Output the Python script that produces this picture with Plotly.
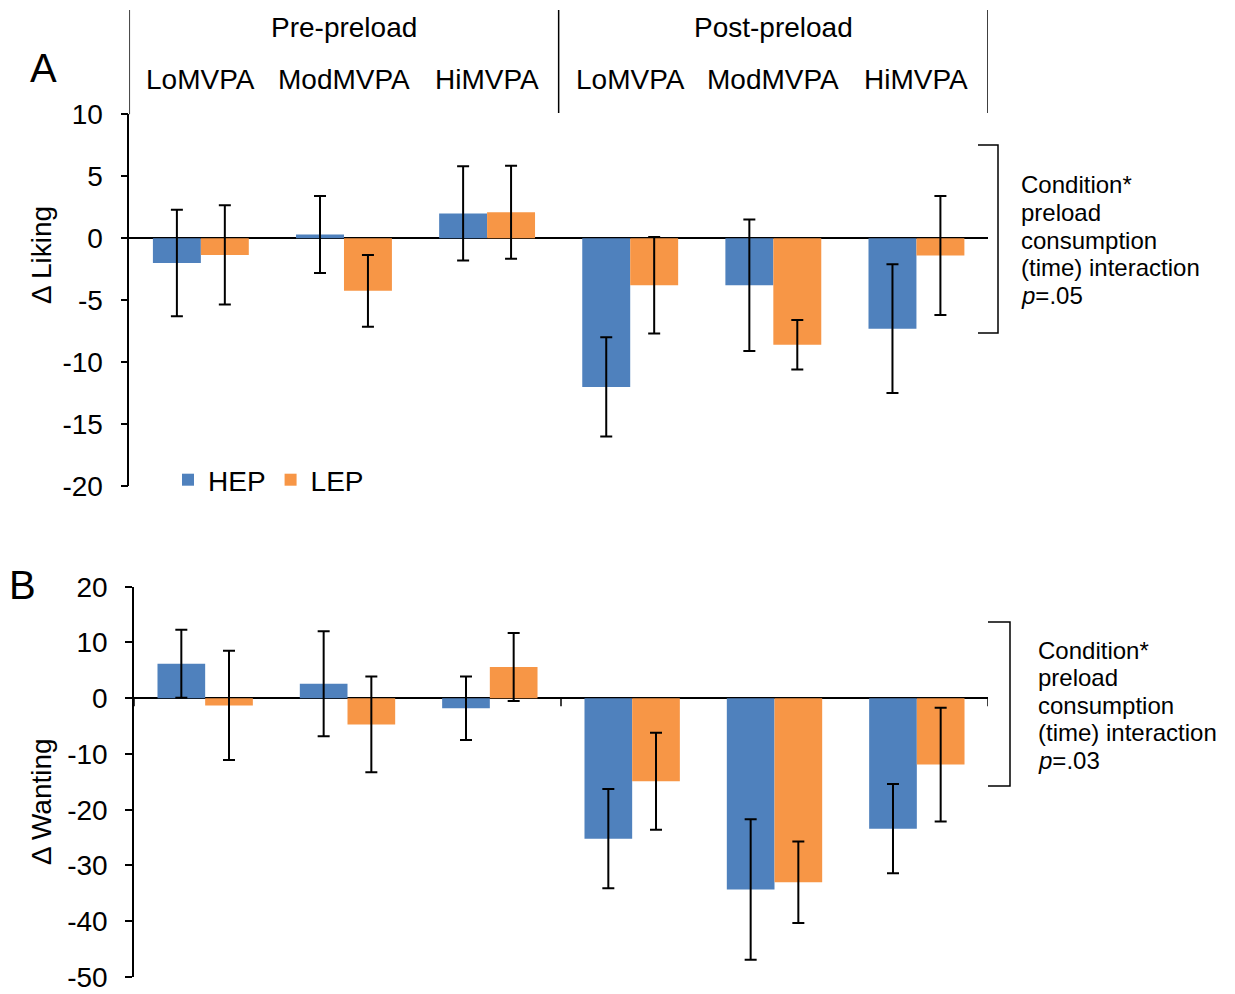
import plotly.graph_objects as go

W, H = 1235, 994

# ---- data -------------------------------------------------------------
phases = ["Pre-preload", "Post-preload"]
levels = ["LoMVPA", "ModMVPA", "HiMVPA", "LoMVPA", "ModMVPA", "HiMVPA"]
series = ["HEP", "LEP"]

liking_hep = [-2.0, 0.3, 2.0, -12.0, -3.8, -7.3]
liking_hep_err = [4.3, 3.1, 3.8, 4.0, 5.3, 5.2]
liking_lep = [-1.35, -4.25, 2.1, -3.8, -8.6, -1.4]
liking_lep_err = [4.0, 2.9, 3.75, 3.9, 2.0, 4.8]

wanting_hep = [6.2, 2.6, -1.8, -25.2, -34.3, -23.4]
wanting_hep_err = [6.1, 9.4, 5.7, 8.9, 12.6, 8.0]
wanting_lep = [-1.3, -4.7, 5.6, -14.9, -33.0, -11.9]
wanting_lep_err = [9.8, 8.6, 6.1, 8.7, 7.3, 10.2]

liking_ticks = [-20, -15, -10, -5, 0, 5, 10]
wanting_ticks = [-50, -40, -30, -20, -10, 0, 10, 20]

liking_note = ["Condition*", "preload", "consumption", "(time) interaction", "<i>p</i>=.05"]
wanting_note = ["Condition*", "preload", "consumption", "(time) interaction", "<i>p</i>=.03"]

# ---- styling ----------------------------------------------------------
FONT = "Arial, 'Liberation Sans', sans-serif"
BLUE = "#4F81BD"
ORANGE = "#F79646"
colors = [BLUE, ORANGE]


def fx(px):
    return px / W


def fy(py):
    return 1 - py / H


xpos = list(range(len(levels)))

fig = go.Figure()

panels = [
    ("x", "y", [liking_hep, liking_lep], [liking_hep_err, liking_lep_err], True),
    ("x2", "y2", [wanting_hep, wanting_lep], [wanting_hep_err, wanting_lep_err], False),
]
for xa, ya, vals, errs, show in panels:
    for name, v, e, c in zip(series, vals, errs, colors):
        fig.add_trace(go.Bar(
            x=xpos, y=v, name=name, xaxis=xa, yaxis=ya,
            marker=dict(color=c, line=dict(width=0)),
            error_y=dict(type="data", array=e, color="black", thickness=2, width=6),
            showlegend=show, legendgroup=name,
        ))

axis_common = dict(
    showgrid=False, ticks="outside", ticklen=7, tickwidth=1.5, tickcolor="black",
    showline=True, linecolor="black", linewidth=1.5,
    zeroline=True, zerolinecolor="black", zerolinewidth=2,
    tickfont=dict(family=FONT, size=28, color="black"),
    ticklabelstandoff=12, automargin=False,
)
xaxis_common = dict(range=[-0.5, 5.5], showgrid=False, zeroline=False, automargin=False,
                    showline=False, showticklabels=False, ticks="")

fig.update_layout(
    template="none",
    width=W, height=H, autosize=False,
    margin=dict(l=0, r=0, t=0, b=0, pad=0),
    paper_bgcolor="white", plot_bgcolor="white",
    barmode="group", bargap=0.33, bargroupgap=0,
    font=dict(family=FONT, size=28, color="black"),
    xaxis=dict(domain=[fx(129.3), fx(988)], anchor="y", **xaxis_common),
    yaxis=dict(domain=[fy(486), fy(114.3)], range=[-20, 10], anchor="x",
               tickvals=liking_ticks, ticktext=[str(t) for t in liking_ticks], **axis_common),
    xaxis2=dict(domain=[fx(134), fx(988)], anchor="y2", **xaxis_common),
    yaxis2=dict(domain=[fy(977), fy(586.7)], range=[-50, 20], anchor="x2",
                tickvals=wanting_ticks, ticktext=[str(t) for t in wanting_ticks], **axis_common),
    legend=dict(orientation="h", x=fx(168), y=fy(480), xanchor="left", yanchor="middle",
                font=dict(family=FONT, size=28, color="black"),
                bgcolor="rgba(0,0,0,0)", traceorder="normal"),
)


def label(text, x, y, size=28, xref="paper", **kw):
    opts = dict(text=text, x=x, y=y, xref=xref, yref="paper", showarrow=False,
                xanchor="center", yanchor="middle", font=dict(size=size))
    opts.update(kw)
    return opts


ann = []
# panel letters
ann.append(label("A", fx(43), fy(68), size=40))
ann.append(label("B", fx(22), fy(585), size=40))
# y titles
ann.append(label("Δ Liking", fx(41), fy(255), textangle=-90))
ann.append(label("Δ Wanting", fx(41), fy(802), textangle=-90))
# phase headers and condition labels
for i, ph in enumerate(phases):
    ann.append(label(ph, 3 * i + 1, fy(27), xref="x"))
for i, lv in enumerate(levels):
    ann.append(label(lv, xpos[i], fy(79), xref="x"))
# interaction notes
for k, line in enumerate(liking_note):
    ann.append(label(line, fx(1019), fy(185 + 27.5 * k), size=24, xanchor="left"))
for k, line in enumerate(wanting_note):
    ann.append(label(line, fx(1036), fy(650 + 27.5 * k), size=24, xanchor="left"))
fig.update_layout(annotations=ann)

shapes = []
line_k = dict(color="black", width=1.5)
# header dividers
for xb, top_end in [(-0.5, 114.3), (2.5, 113), (5.5, 113)]:
    shapes.append(dict(type="line", xref="x", yref="paper", x0=xb, x1=xb,
                       y0=fy(10), y1=fy(top_end), line=line_k))
# small boundary ticks on the wanting axis
for xb in [-0.5, 2.5, 5.5]:
    shapes.append(dict(type="line", xref="x2", yref="y2", ysizemode="pixel", yanchor=0,
                       x0=xb, x1=xb, y0=0, y1=-8, line=line_k))
# brackets beside the notes
shapes.append(dict(type="path", xref="paper", yref="paper",
                   path=f"M {fx(978)},{fy(145)} L {fx(998)},{fy(145)} L {fx(998)},{fy(333)} L {fx(978)},{fy(333)}",
                   line=line_k))
shapes.append(dict(type="path", xref="paper", yref="paper",
                   path=f"M {fx(988)},{fy(622)} L {fx(1010)},{fy(622)} L {fx(1010)},{fy(786)} L {fx(988)},{fy(786)}",
                   line=line_k))
fig.update_layout(shapes=shapes)

fig.write_html("out.html")
